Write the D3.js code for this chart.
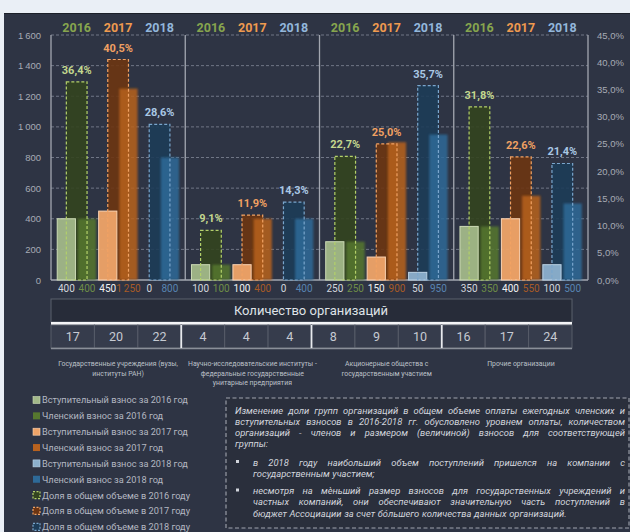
<!DOCTYPE html>
<html lang="ru">
<head>
<meta charset="utf-8">
<title>Взносы по группам организаций</title>
<script src="https://d3js.org/d3.v7.min.js"></script>
<style>
body { margin: 0; background: #eaeff6; }
svg { display: block; font-family: Roboto, "Open Sans", sans-serif; }
</style>
</head>
<body>
<div id="chart"></div>
<script>
// данные
const categories = [
  ["Государственные учреждения (вузы,", "институты РАН)"],
  ["Научно-исследовательские институты -", "федеральные государственные", "унитарные предприятия"],
  ["Акционерные общества с", "государственным участием"],
  ["Прочие организации"]
];
const years = ["2016", "2017", "2018"];
const entryFee2016  = [400, 100, 250, 350];
const memberFee2016 = [400, 100, 250, 350];
const entryFee2017  = [450, 100, 150, 400];
const memberFee2017 = [1250, 400, 900, 550];
const entryFee2018  = [0, 0, 50, 100];
const memberFee2018 = [800, 400, 950, 500];
const share2016 = [36.4, 9.1, 22.7, 31.8];
const share2017 = [40.5, 11.9, 25.0, 22.6];
const share2018 = [28.6, 14.3, 35.7, 21.4];
const orgCount2016 = [17, 4, 8, 16];
const orgCount2017 = [20, 4, 9, 17];
const orgCount2018 = [22, 4, 10, 24];
const leftTicks = [0, 200, 400, 600, 800, 1000, 1200, 1400, 1600];
const rightTicks = [0, 5, 10, 15, 20, 25, 30, 35, 40, 45];
const tableTitle = "Количество организаций";
const legendLabels = [
  "Вступительный взнос за 2016 год",
  "Членский взнос за 2016 год",
  "Вступительный взнос за 2017 год",
  "Членский взнос за 2017 год",
  "Вступительный взнос за 2018 год",
  "Членский взнос за 2018 год",
  "Доля в общем объеме в 2016 году",
  "Доля в общем объеме в 2017 году",
  "Доля в общем объеме в 2018 году"
];
const noteParagraph = [
  "Изменение доли групп организаций в общем объеме оплаты ежегодных членских и",
  "вступительных взносов в 2016-2018 гг. обусловлено уровнем оплаты, количеством",
  "организаций - членов и размером (величиной) взносов для соответствующей",
  "группы:"
];
const noteBullet1 = [
  "в 2018 году наибольший объем поступлений пришелся на компании с",
  "государственным участием;"
];
const noteBullet2 = [
  "несмотря на мѐньший размер взносов для государственных учреждений и",
  "частных компаний, они обеспечивают значительную часть поступлений в",
  "бюджет Ассоциации за счет бóльшего количества данных организаций."
];

const W = 630, H = 532;
const ru = d3.formatLocale({decimal: ",", thousands: "\u2009", grouping: [3], currency: ["", ""]});
const fmtNum = ru.format(",");
const fmtPct = ru.format(".1f");

const series = [
  {key: "e16", values: entryFee2016,  entry: true,  fill: "#a2b889", stroke: "#cddbb6", label: "#d3d7dd"},
  {key: "m16", values: memberFee2016, entry: false, fill: "#56782f", label: "#6e8e47"},
  {key: "e17", values: entryFee2017,  entry: true,  fill: "#efa468", stroke: "#fbd3b2", label: "#f2f2f2"},
  {key: "m17", values: memberFee2017, entry: false, fill: "#b8621f", label: "#a85b26"},
  {key: "e18", values: entryFee2018,  entry: true,  fill: "#8cb0cd", stroke: "#bbd2e5", label: "#d3d7dd"},
  {key: "m18", values: memberFee2018, entry: false, fill: "#2e6a98", label: "#5884b2"}
];
const shares = [
  {year: years[0], values: share2016, pair: ["e16", "m16"], fill: "#33441f", stroke: "#b3d069", text: "#c3d78e", head: "#87a54e"},
  {year: years[1], values: share2017, pair: ["e17", "m17"], fill: "#6d3512", stroke: "#f2a263", text: "#f0a062", head: "#ef9a4f"},
  {year: years[2], values: share2018, pair: ["e18", "m18"], fill: "#1d3c58", stroke: "#7aa6cd", text: "#a9c7e4", head: "#93b7dc"}
];

const svg = d3.select("#chart").append("svg").attr("width", W).attr("height", H);
const defs = svg.append("defs");
defs.append("filter").attr("id", "soft").attr("x", "-30%").attr("y", "-10%").attr("width", "160%").attr("height", "120%")
  .append("feGaussianBlur").attr("stdDeviation", 1.3);

// фон
svg.append("rect").attr("width", W).attr("height", H).attr("fill", "#eaeff6");
svg.append("rect").attr("x", 4).attr("y", 13).attr("width", W - 4).attr("height", H - 13).attr("fill", "#2e3444");
svg.append("line").attr("x1", 4).attr("x2", W).attr("y1", 13.5).attr("y2", 13.5).attr("stroke", "#1c2029");

// шкалы
const x0 = d3.scaleBand().domain(d3.range(categories.length)).range([51, 588]);
const x1 = d3.scaleBand().domain(series.map(d => d.key)).range([0, x0.bandwidth()]).paddingInner(0.12).paddingOuter(0.3);
const y = d3.scaleLinear().domain([0, 1600]).range([280, 35]);
const yR = d3.scaleLinear().domain([0, 45]).range([280, 35]);

// сетка
svg.append("g").selectAll("line").data(leftTicks.filter(d => d > 0)).join("line")
  .attr("x1", 51).attr("x2", 588).attr("y1", d => y(d)).attr("y2", d => y(d))
  .attr("stroke", "#707686").attr("stroke-dasharray", "3,2");

// оси
const axisL = svg.append("g").attr("transform", "translate(51,0)")
  .call(d3.axisLeft(y).tickValues(leftTicks).tickFormat(fmtNum).tickSize(0).tickPadding(10));
const axisR = svg.append("g").attr("transform", "translate(588,0)")
  .call(d3.axisRight(yR).tickValues(rightTicks).tickFormat(d => fmtPct(d) + "%").tickSize(0).tickPadding(9));
[axisL, axisR].forEach(a => {
  a.select(".domain").remove();
  a.selectAll("text").attr("fill", "#a7abb5").attr("font-size", 9.5);
});

// разделители групп
svg.append("g").selectAll("line").data(d3.range(categories.length + 1)).join("line")
  .attr("x1", i => i < categories.length ? x0(i) : x0.range()[1])
  .attr("x2", i => i < categories.length ? x0(i) : x0.range()[1])
  .attr("y1", 35).attr("y2", 280).attr("stroke", "#a3a7b1").attr("stroke-width", 1.3);
svg.append("line").attr("x1", 51).attr("x2", 588).attr("y1", 280).attr("y2", 280)
  .attr("stroke", "#a3a7b1").attr("stroke-width", 1.3);

const pairX = (g, s) => x0(g) + x1(s.pair[0]) + (x1(s.pair[1]) + x1.bandwidth() - x1(s.pair[0])) / 2;

// доли - заливка
const shareG = svg.append("g");
shares.forEach(s => {
  shareG.selectAll(null).data(s.values).join("rect")
    .attr("x", (d, g) => pairX(g, s) - x1.step() / 2)
    .attr("width", x1.step())
    .attr("y", d => yR(d)).attr("height", d => yR(0) - yR(d))
    .attr("fill", s.fill).attr("opacity", 0.9);
});

// столбцы взносов
series.forEach(s => {
  const sel = svg.append("g").selectAll("rect").data(s.values).join("rect")
    .attr("x", (d, g) => x0(g) + x1(s.key))
    .attr("width", x1.bandwidth())
    .attr("y", d => y(d)).attr("height", d => y(0) - y(d))
    .attr("fill", s.fill);
  if (s.entry) {
    sel.attr("stroke", s.stroke).attr("stroke-width", 1).attr("fill-opacity", 0.95);
  } else {
    sel.attr("filter", "url(#soft)").attr("opacity", 0.85);
  }
  sel.filter(d => d === 0).remove();
});

// доли - пунктирные контуры и подписи
shares.forEach(s => {
  svg.append("g").selectAll("rect").data(s.values).join("rect")
    .attr("x", (d, g) => pairX(g, s) - x1.step() / 2)
    .attr("width", x1.step())
    .attr("y", d => yR(d)).attr("height", d => yR(0) - yR(d))
    .attr("fill", "none").attr("stroke", s.stroke).attr("stroke-width", 1.2).attr("stroke-dasharray", "3,2");
  svg.append("g").selectAll("text").data(s.values).join("text")
    .attr("x", (d, g) => pairX(g, s)).attr("y", d => yR(d) - 8)
    .attr("text-anchor", "middle").attr("font-size", 11).attr("font-weight", "bold")
    .attr("fill", s.text).text(d => fmtPct(d) + "%");
  // заголовки годов
  svg.append("g").selectAll("text").data(categories).join("text")
    .attr("x", (d, g) => pairX(g, s)).attr("y", 32)
    .attr("text-anchor", "middle").attr("font-size", 12.5).attr("font-weight", "bold")
    .attr("fill", s.head).text(s.year);
});

// подписи значений под столбцами
series.forEach(s => {
  svg.append("g").selectAll("text").data(s.values).join("text")
    .attr("x", (d, g) => x0(g) + x1(s.key) + x1.bandwidth() / 2).attr("y", 291.5)
    .attr("text-anchor", "middle").attr("font-size", 10)
    .attr("fill", s.label).text(d => fmtNum(d));
});

// таблица количества организаций
const counts = [];
categories.forEach((c, g) => counts.push(orgCount2016[g], orgCount2017[g], orgCount2018[g]));
const xt = d3.scaleBand().domain(d3.range(counts.length)).range([51, 572]);
svg.append("rect").attr("x", 51).attr("y", 299).attr("width", 521).attr("height", 23)
  .attr("fill", "#272c39").attr("stroke", "#5b606d");
svg.append("text").attr("x", 311).attr("y", 315).attr("text-anchor", "middle")
  .attr("font-size", 13).attr("fill", "#dfe2e7").text(tableTitle);
svg.append("rect").attr("x", 51).attr("y", 322).attr("width", 521).attr("height", 3).attr("fill", "#f4f5f7");
svg.append("g").selectAll("rect").data(counts).join("rect")
  .attr("x", (d, i) => xt(i)).attr("width", xt.bandwidth()).attr("y", 325).attr("height", 23)
  .attr("fill", "#363c4c").attr("stroke", "#575c69");
svg.append("line").attr("x1", 51).attr("x2", 572).attr("y1", 348.5).attr("y2", 348.5).attr("stroke", "#8a8f99").attr("stroke-width", 1.5);
svg.append("g").selectAll("line").data([3, 6, 9]).join("line")
  .attr("x1", i => xt(i)).attr("x2", i => xt(i)).attr("y1", 325).attr("y2", 348)
  .attr("stroke", "#e8eaee").attr("stroke-width", 1.8);
svg.append("g").selectAll("text").data(counts).join("text")
  .attr("x", (d, i) => xt(i) + xt.bandwidth() / 2).attr("y", 341)
  .attr("text-anchor", "middle").attr("font-size", 12.5).attr("fill", "#c6cad2").text(d => d);

// подписи категорий
categories.forEach((lines, g) => {
  svg.append("text").attr("x", x0(g) + x0.bandwidth() / 2).attr("y", 366)
    .attr("text-anchor", "middle").attr("font-size", 6.9).attr("fill", "#bcc0c8")
    .selectAll("tspan").data(lines).join("tspan")
    .attr("x", x0(g) + x0.bandwidth() / 2).attr("dy", (d, i) => i ? 9.6 : 0).text(d => d);
});

// легенда
const legendColors = series.map(s => s.fill);
const leg = svg.append("g").selectAll("g").data(legendLabels).join("g")
  .attr("transform", (d, i) => `translate(33,${400 + i * 15.85})`);
leg.append("rect").attr("x", 0).attr("y", -3.5).attr("width", 7).attr("height", 7)
  .attr("fill", (d, i) => i < 6 ? legendColors[i] : shares[i - 6].fill)
  .attr("stroke", (d, i) => i < 6 ? (series[i].stroke || "none") : shares[i - 6].stroke)
  .attr("stroke-width", (d, i) => i < 6 ? 0.6 : 1.2)
  .attr("stroke-dasharray", (d, i) => i < 6 ? null : "2,1.5");
leg.append("text").attr("x", 9).attr("y", 3.4).attr("font-size", 9.2).attr("fill", "#b4b8c2").text(d => d);

// текстовый блок
svg.append("rect").attr("x", 226).attr("y", 398).attr("width", 403).attr("height", 130)
  .attr("fill", "#2a2f3c").attr("stroke", "#a0a4ae").attr("stroke-width", 1.1).attr("stroke-dasharray", "4,2.5");

const note = svg.append("g").attr("font-style", "italic").attr("fill", "#d2d5dc");
// выравнивание по ширине: слова ставятся отдельными строками текста
function justify(line, xa, xb, yy, full) {
  const words = line.split(" ");
  let fs = 9.4;
  let texts, widths;
  for (let k = 0; k < 6; k++) {
    note.selectAll(".tmp").remove();
    texts = words.map(w => note.append("text").attr("class", "tmp").attr("y", yy).attr("font-size", fs).text(w));
    widths = texts.map(t => t.node().getComputedTextLength());
    const need = d3.sum(widths) + 2.2 * (words.length - 1);
    if (need <= xb - xa) break;
    fs = fs * (xb - xa) / need - 0.05;
  }
  texts.forEach(t => t.attr("class", null));
  const total = d3.sum(widths);
  const gap = full && words.length > 1 ? (xb - xa - total) / (words.length - 1) : 2.6;
  let cx = xa;
  texts.forEach((t, i) => { t.attr("x", cx); cx += widths[i] + gap; });
}
const lh = 11.3;
noteParagraph.forEach((l, i) => justify(l, 235, 625, 413.5 + i * lh, i < noteParagraph.length - 1));
noteBullet1.forEach((l, i) => justify(l, 253, 625, 465.5 + i * lh, i < noteBullet1.length - 1));
noteBullet2.forEach((l, i) => justify(l, 253, 625, 494 + i * lh, i < noteBullet2.length - 1));
[465.5, 494].forEach(yy => {
  svg.append("rect").attr("x", 236).attr("y", yy - 5.5).attr("width", 3).attr("height", 3).attr("fill", "#d2d5dc");
});
</script>
</body>
</html>
